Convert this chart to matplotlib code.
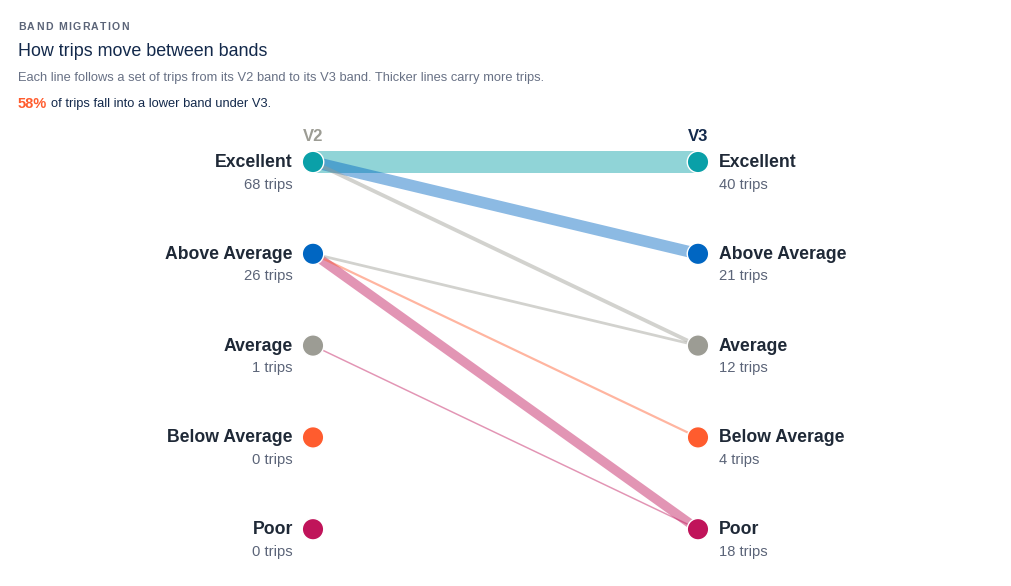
import matplotlib.pyplot as plt

plt.rcParams["font.family"] = ["Liberation Sans", "DejaVu Sans"]

# Bands, top to bottom
bands = ["Excellent", "Above Average", "Average", "Below Average", "Poor"]
band_colors = ["#0aa0a8", "#0066c2", "#9c9c94", "#ff5c2e", "#c0145a"]
v2_trips = [68, 26, 1, 0, 0]
v3_trips = [40, 21, 12, 4, 18]

# Flows: V2 band index -> V3 band index, with trip counts
flow_from = [0, 0, 0, 1, 1, 1, 2]
flow_to = [0, 1, 2, 2, 3, 4, 4]
flow_trips = [40, 21, 7, 5, 4, 17, 1]

pct_lower = "58%"

NAVY = "#13294b"
GREY_TXT = "#5b6478"

# layout (pixels)
x_left, x_right = 313, 698
y_top, row_gap = 162, 91.8
max_lw_px = 22

fig = plt.figure(figsize=(10.12, 5.86), dpi=100)
ax = fig.add_axes([0, 0, 1, 1])
ax.set_xlim(0, 1012)
ax.set_ylim(586, 0)
ax.axis("off")

px = 0.72  # px -> pt at 100 dpi
fig.canvas.draw()
renderer = fig.canvas.get_renderer()

# eyebrow with letter spacing, drawn one char at a time
x = 18.0
for ch in "BAND MIGRATION":
    t = ax.text(x, 26.5, ch, fontsize=7.6, fontweight="bold", color=GREY_TXT,
                va="center", ha="left")
    w = t.get_window_extent(renderer).width
    x += w + 1.3

ax.text(18, 51.5, "How trips move between bands", fontsize=12.9, color=NAVY,
        va="center", ha="left")
ax.text(18, 77.5, "Each line follows a set of trips from its V2 band to its V3 band. "
        "Thicker lines carry more trips.", fontsize=9.3, color="#687185",
        va="center", ha="left")
t = ax.text(18, 103.5, pct_lower, fontsize=10.5, fontweight="bold", color="#ff5c2e",
            va="center", ha="left")
bb = t.get_window_extent(renderer)
ax.text(bb.x1 + 4, 104, "of trips fall into a lower band under V3.", fontsize=9.25,
        color=NAVY, va="center", ha="left")

ys = [y_top + i * row_gap for i in range(len(bands))]

# flows, thickest first
order = sorted(range(len(flow_trips)), key=lambda i: -flow_trips[i])
mx = max(flow_trips)
for i in order:
    a, b, n = flow_from[i], flow_to[i], flow_trips[i]
    lw = max(1.5, max_lw_px * n / mx) * px
    ax.plot([x_left, x_right], [ys[a], ys[b]], color=band_colors[b], alpha=0.45,
            lw=lw, solid_capstyle="butt", zorder=2)

# nodes
ax.scatter([x_left] * len(bands), ys, s=(21.5 * px) ** 2, c=band_colors,
           edgecolors="white", linewidths=1.0, zorder=5)
ax.scatter([x_right] * len(bands), ys, s=(21.5 * px) ** 2, c=band_colors,
           edgecolors="white", linewidths=1.0, zorder=5)

# column headers
ax.text(x_left, 136.5, "V2", fontsize=12, fontweight="bold", color="#9c9c94",
        ha="center", va="center")
ax.text(x_right, 136.5, "V3", fontsize=12, fontweight="bold", color=NAVY,
        ha="center", va="center")

# labels
for i, name in enumerate(bands):
    y = ys[i]
    ax.text(x_left - 20, y + 0.5, name, fontsize=12.7, fontweight="bold",
            color="#1f2937", ha="right", va="center")
    ax.text(x_left - 20, y + 22.5, f"{v2_trips[i]} trips", fontsize=10.6,
            color=GREY_TXT, ha="right", va="center")
    ax.text(x_right + 21, y + 0.5, name, fontsize=12.7, fontweight="bold",
            color="#1f2937", ha="left", va="center")
    ax.text(x_right + 21, y + 22.5, f"{v3_trips[i]} trips", fontsize=10.6,
            color=GREY_TXT, ha="left", va="center")

fig.savefig("out.png", dpi=100, facecolor="white")
